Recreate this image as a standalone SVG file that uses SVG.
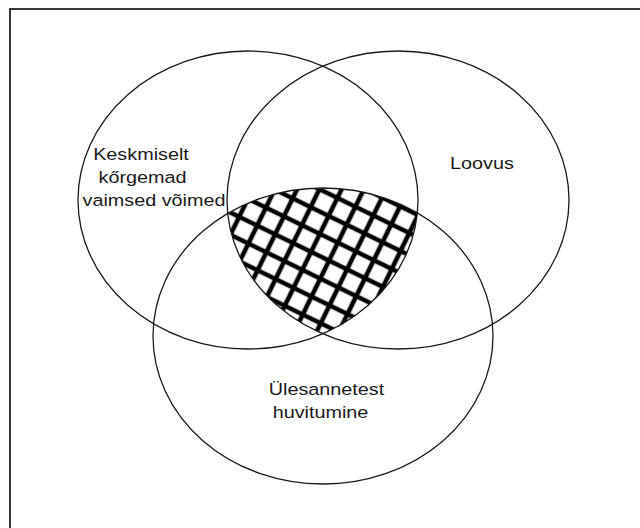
<svg xmlns="http://www.w3.org/2000/svg" width="640" height="528" viewBox="0 0 640 528">
<style>
.ring{fill:none;stroke:#1a1a1a;stroke-width:1.3}
.lbl{font-family:"Liberation Sans",Arial,sans-serif;font-size:16.5px;fill:#1a1a1a;text-anchor:middle}
</style>
<defs>
<pattern id="hatch" patternUnits="userSpaceOnUse" width="20" height="20" patternTransform="rotate(26)">
<path d="M0 10H20M10 0V20" stroke="#000" stroke-width="4.6"/>
</pattern>
<clipPath id="cA"><ellipse cx="248" cy="200" rx="170" ry="149"/></clipPath>
<clipPath id="cB"><ellipse cx="398" cy="200" rx="171" ry="149"/></clipPath>
<clipPath id="cC"><ellipse cx="323" cy="336" rx="170" ry="148"/></clipPath>
</defs>
<rect width="640" height="528" fill="#fff"/>
<rect x="10" y="9" width="640" height="530" fill="none" stroke="#383838" stroke-width="2"/>
<g id="overlap">
<g clip-path="url(#cA)"><g clip-path="url(#cB)"><rect x="150" y="150" width="340" height="220" fill="url(#hatch)" clip-path="url(#cC)"/></g></g>
</g>
<g id="node-abilities">
<ellipse class="ring" cx="248" cy="200" rx="170" ry="149"/>
<text class="lbl" transform="translate(141,160) scale(1.2,1)">Keskmiselt</text>
<text class="lbl" transform="translate(142.5,183) scale(1.2,1)">kőrgemad</text>
<text class="lbl" transform="translate(154,206) scale(1.2,1)">vaimsed võimed</text>
</g>
<g id="node-creativity">
<ellipse class="ring" cx="398" cy="200" rx="171" ry="149"/>
<text class="lbl" transform="translate(482,169) scale(1.2,1)">Loovus</text>
</g>
<g id="node-interest">
<ellipse class="ring" cx="323" cy="336" rx="170" ry="148"/>
<text class="lbl" transform="translate(326.5,395) scale(1.2,1)">Ülesannetest</text>
<text class="lbl" transform="translate(320.5,418) scale(1.2,1)">huvitumine</text>
</g>
</svg>
